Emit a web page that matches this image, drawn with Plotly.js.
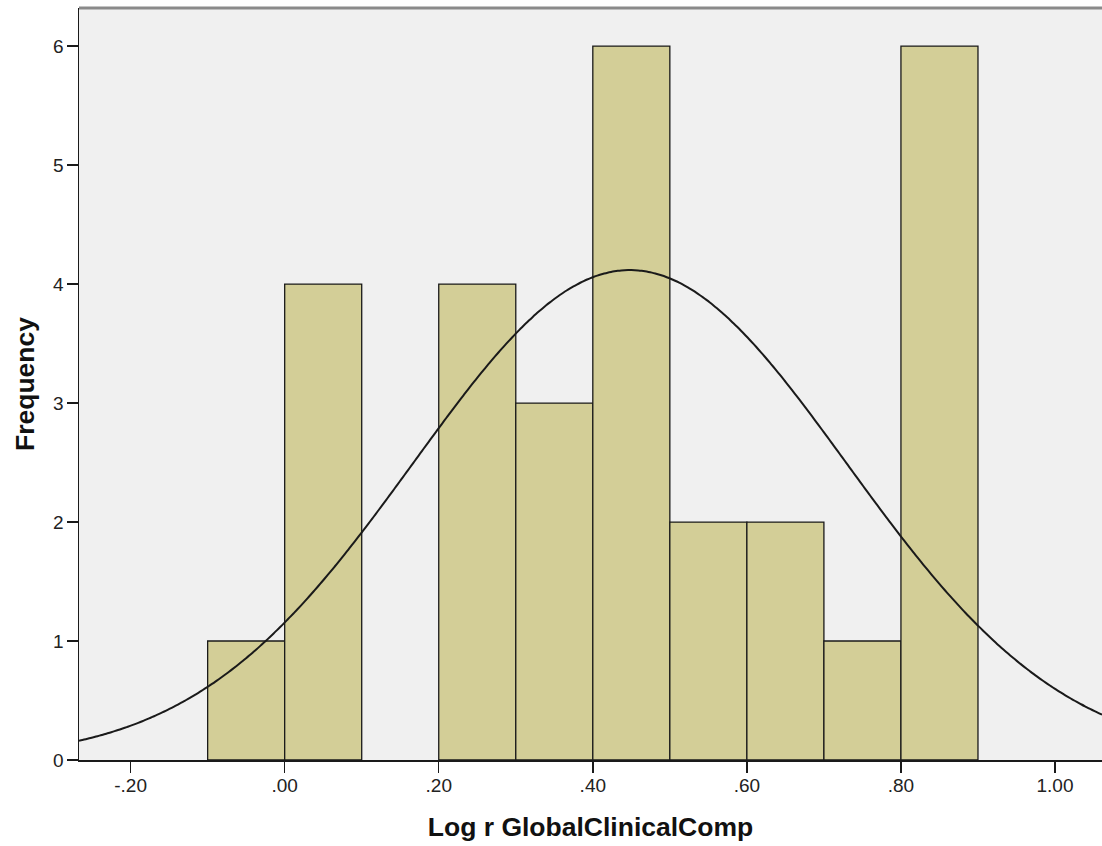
<!DOCTYPE html>
<html>
<head>
<meta charset="utf-8">
<script src="https://cdn.plot.ly/plotly-3.0.1.min.js"></script>
<style>
  html, body { margin: 0; padding: 0; background: #ffffff; }
  #chart { width: 1102px; height: 846px; }
</style>
</head>
<body>
<div id="chart"></div>
<script>
// Histogram of log r GlobalClinicalComp, bin width 0.10
const binCenters = [-0.05, 0.05, 0.15, 0.25, 0.35, 0.45, 0.55, 0.65, 0.75, 0.85];
const frequencies = [1, 4, 0, 4, 3, 6, 2, 2, 1, 6];
const binWidth = 0.1;

// Fitted normal curve parameters
const sampleMean = 0.448;
const sampleSd = 0.281;
const sampleN = 29;

const xTickVals = [-0.2, 0, 0.2, 0.4, 0.6, 0.8, 1.0];
const xTickText = ['-.20', '.00', '.20', '.40', '.60', '.80', '1.00'];
const yTickVals = [0, 1, 2, 3, 4, 5, 6];

const xRange = [-0.267, 1.061];
const yRange = [0, 6.32];

// Normal density scaled to counts, evaluated across the x range
const curveX = [];
const curveY = [];
const steps = 300;
for (let i = 0; i <= steps; i++) {
  const x = xRange[0] + (xRange[1] - xRange[0]) * i / steps;
  const z = (x - sampleMean) / sampleSd;
  curveX.push(x);
  curveY.push(sampleN * binWidth / (sampleSd * Math.sqrt(2 * Math.PI)) * Math.exp(-0.5 * z * z));
}

// Only bins with counts are drawn
const barX = [], barY = [];
binCenters.forEach((c, i) => { if (frequencies[i] > 0) { barX.push(c); barY.push(frequencies[i]); } });

const titleFont = { size: 26.5, color: '#111111', family: 'Liberation Sans, Arial, sans-serif', weight: 'bold' };
const tickFont = { size: 19, color: '#222222', family: 'Liberation Sans, Arial, sans-serif' };

const traces = [
  {
    type: 'bar',
    x: barX,
    y: barY,
    width: binWidth,
    marker: { color: '#D3CE97', line: { color: '#1a1a1a', width: 1.3 } },
    hoverinfo: 'x+y'
  },
  {
    type: 'scatter',
    mode: 'lines',
    x: curveX,
    y: curveY,
    line: { color: '#1a1a1a', width: 2, shape: 'spline' },
    hoverinfo: 'skip'
  }
];

const layout = {
  width: 1102,
  height: 846,
  margin: { l: 79, r: 0, t: 8, b: 86 },
  paper_bgcolor: '#ffffff',
  plot_bgcolor: '#F0F0F0',
  showlegend: false,
  font: { family: 'Liberation Sans, Arial, sans-serif', color: '#222222' },
  xaxis: {
    range: xRange,
    tickmode: 'array',
    tickvals: xTickVals,
    ticktext: xTickText,
    ticks: 'outside',
    ticklen: 11,
    tickwidth: 1.5,
    tickcolor: '#1a1a1a',
    showline: true,
    linecolor: '#1a1a1a',
    linewidth: 1.5,
    showgrid: false,
    zeroline: false,
    tickfont: tickFont,
    ticklabelstandoff: -3,
    title: {
      text: 'Log r GlobalClinicalComp',
      font: titleFont,
      standoff: 22
    }
  },
  yaxis: {
    range: yRange,
    tickmode: 'array',
    tickvals: yTickVals,
    ticks: 'outside',
    ticklen: 11,
    tickwidth: 1.5,
    tickcolor: '#1a1a1a',
    showline: true,
    linecolor: '#1a1a1a',
    linewidth: 1.5,
    showgrid: false,
    zeroline: false,
    tickfont: tickFont,
    ticklabelstandoff: -1,
    title: {
      text: 'Frequency',
      font: titleFont,
      standoff: 11
    }
  },
  bargap: 0,
  shapes: [
    {
      type: 'line', xref: 'paper', yref: 'paper',
      x0: 0, x1: 1, y0: 1, y1: 1,
      line: { color: '#8a8a8a', width: 3 }
    }
  ]
};

Plotly.newPlot('chart', traces, layout, { displayModeBar: false, staticPlot: true });
</script>
</body>
</html>
